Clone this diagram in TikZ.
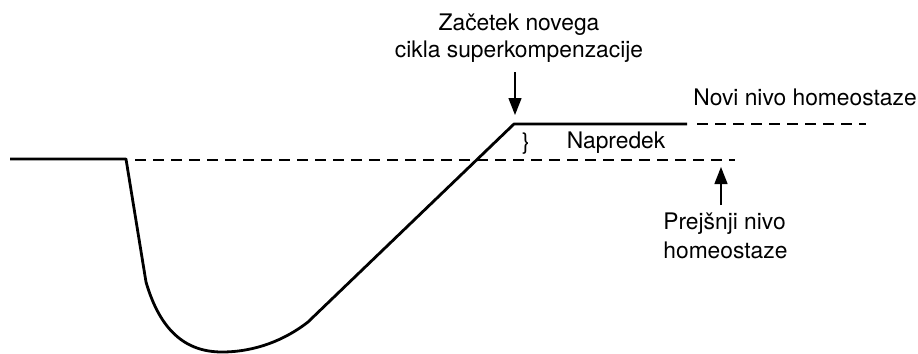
\documentclass[tikz,border=0pt]{standalone}
\usepackage{fontspec}
\setmainfont{TeX Gyre Heros}
\usetikzlibrary{arrows.meta, positioning}

\begin{document}
\begin{tikzpicture}[x=0.5pt, y=-0.5pt,
        krivulja/.style={line width=1.4pt, line join=round},
        nivo/.style={line width=0.9pt, dash pattern=on 5.5pt off 3.5pt},
        puscica/.style={line width=0.7pt, -{Triangle[length=8.5pt, width=6.5pt]}},
        napis/.style={font=\fontsize{11.4}{13.2}\selectfont, inner sep=0pt}]
    \useasboundingbox (0,0) rectangle (918,354);

    % tocke na krivulji
    \coordinate (zacetek) at (10,159);
    \coordinate (padec) at (126,159);
    \coordinate (vrh) at (514,124);
    \coordinate (konec) at (687,124);

    % krivulja superkompenzacije
    \draw[krivulja] (zacetek) -- (padec) -- (146,282)
        .. controls (160,330) and (185,352) .. (222,352)
        .. controls (255,352) and (285,340) .. (308,322) -- (vrh) -- (konec);

    % nivoja homeostaze
    \draw[nivo] (135,160) coordinate (stari0) -- (735,160) coordinate (stari1);
    \draw[nivo] (697,124) coordinate (novi0) -- (866,124) coordinate (novi1);

    % napisi
    \node[napis, align=center] (zacetekcikla) at (519,38) {Začetek novega\\cikla superkompenzacije};
    \node[napis] (oklepaj) at (526,144) {\}};
    \node[napis] (napredek) at (616,143) {Napredek};
    \node[napis] (novinivo) at (805,97) {Novi nivo homeostaze};
    \node[napis, align=left, anchor=north west, font=\fontsize{11.4}{14.5}\selectfont]
        (prejsnji) at (663,212) {Prejšnji nivo\\homeostaze};

    % puscici
    \coordinate (vrhpuscice) at (515,115);
    \coordinate (dnopuscice) at (721,167);
    \draw[puscica] (zacetekcikla.south -| vrhpuscice) ++(0,10) -- (vrhpuscice);
    \draw[puscica] (prejsnji.north -| dnopuscice) ++(0,-7) -- (dnopuscice);
\end{tikzpicture}
\end{document}
